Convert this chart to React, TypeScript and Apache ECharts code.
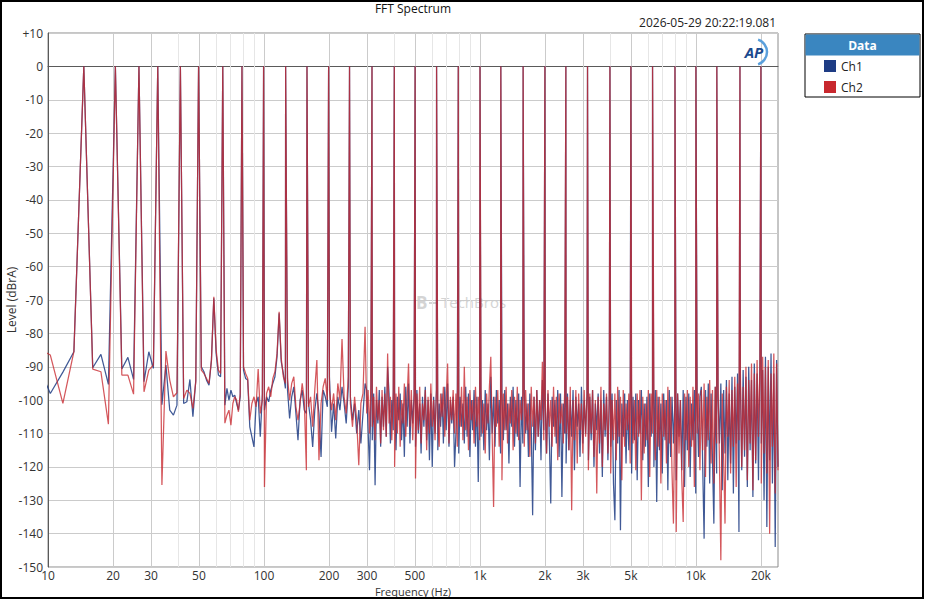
import React, { useEffect, useRef } from "react";
import * as echarts from "echarts";

const chartTitle = "FFT Spectrum";
const timestamp = "2026-05-29 20:22:19.081";
const xAxisName = "Frequency (Hz)";
const yAxisName = "Level (dBrA)";
const seriesNames = ["Ch1", "Ch2"];

const xTickHz = [10, 20, 30, 50, 100, 200, 300, 500, 1000, 2000, 3000, 5000, 10000, 20000];
const majorGridHz = [20, 30, 50, 100, 200, 300, 500, 1000, 2000, 3000, 5000, 10000, 20000];
const minorGridHz = [40, 60, 70, 80, 90, 400, 600, 700, 800, 900, 4000, 6000, 7000, 8000, 9000];

// multitone test tones (Hz) and their levels (dBrA)
const toneHz = [
  14.65, 20.51, 26.37, 32.23, 41.02, 49.8, 64.45, 79.1, 99.61, 125.98, 158.2, 199.22, 249.02, 316.41,
  401.37, 500.98, 629.88, 793.95, 1000.49, 1249.5, 1584.96, 1999.5, 2500, 3149.4, 3999, 5000, 6299.4,
  7999.5, 10000, 12500, 15999, 19999.5,
];
const toneDb = [
  0, 0, 0, 0, 0, 0, 0, 0, 0, 0, 0, 0, 0, 0, 0, 0, 0, 0, 0, 0, 0, 0, 0, 0, 0, 0, 0, 0, 0, 0, 0, 0,
];

// low-frequency FFT bins (Hz)
const lowHz = [
  8.79, 10.25, 11.72, 13.18, 16.11, 17.58, 19.04, 21.97, 23.44, 24.9, 27.83, 29.3, 30.76, 33.69, 35.16,
  36.62, 38.09, 39.55, 42.48, 43.95, 45.41, 46.88, 48.34, 51.27, 52.73, 54.2, 55.66, 57.13, 58.59, 60.06,
  61.52, 62.99, 65.92, 67.38, 68.85, 70.31, 71.78, 73.24, 74.71, 76.17, 77.64,
];
const ch1LowDb = [
  -88, -98, -91.6, -85.5, -90.3, -86.3, -95.3, -90.7, -87.2, -93.8, -94.5, -85.5, -90.5, -101.4, -89.5,
  -103, -104.5, -101.5, -101, -100.5, -93.8, -105, -94, -90, -91.5, -94, -95.5, -88, -69.5, -86,
  -92.5, -93, -101.5, -96.5, -100, -97, -99, -98.5, -101, -103, -99,
];
const ch2LowDb = [
  -84, -86.5, -101, -85.5, -90.7, -91.5, -107.2, -92.5, -92.5, -98.2, -97.5, -91, -89.5, -125.4, -85.3,
  -94, -99, -97.8, -99.5, -97, -98, -102.5, -94.5, -91, -92, -93.5, -95, -88, -69, -85,
  -91, -92, -106.9, -104.5, -103, -107.5, -101, -99, -100, -103.5, -98,
];

// read-out grids (log-spaced sampling positions), mid band and high band
const MID_START_HZ = 80.4;
const MID_END_HZ = 293.9;
const MID_POINTS = 59;
const HIGH_START_HZ = 299.1;
const HIGH_END_HZ = 24000;
const HIGH_POINTS = 296;
const logGrid = (a: number, b: number, n: number) =>
  Array.from({ length: n }, (_, i) => a * Math.pow(b / a, i / (n - 1)));
const midHz = logGrid(MID_START_HZ, MID_END_HZ, MID_POINTS);
const highHz = logGrid(HIGH_START_HZ, HIGH_END_HZ, HIGH_POINTS);

const ch1MidDb = [
  -91, -93.5, -94, -108, -111, -114, -101, -99, -111, -98, -103, -99, -100.5, -97, -95, -93,
  -87, -74, -88.5, -92, -96.5, -97, -105.5, -99, -96, -104, -112, -100, -97, -103, -104, -101,
  -106, -114, -103, -98, -104, -117, -97, -99, -102, -93, -109.5, -101, -111.5, -99, -103, -96,
  -101, -107, -96, -99, -106, -101, -110, -103, -113, -104, -95,
];
const ch2MidDb = [
  -90, -92, -93.5, -106, -101, -99, -102, -90.7, -104, -100, -126, -98, -96, -99, -93.5, -91.5,
  -86, -73.5, -87.5, -93, -95, -93.5, -100, -95, -93, -102, -106, -101, -95, -100, -121, -102,
  -99, -108, -97, -88, -118, -101, -96, -93.5, -100, -97, -103, -98, -106, -95, -100, -81.7,
  -99, -104, -93, -101, -108, -99, -106, -119.5, -101, -98, -78,
];

const ch1HighDb = [
  -97, -109, -121, -99, -112, -98, -125.5, -100, -107, -97, -114, -99, -108, -96, -111, -90,
  -98, -113, -100, -109, -97, -115, -99, -106, -98, -112, -101, -117, -96, -108, -95, -113,
  -100, -107, -98, -114, -97, -110, -101, -116, -99, -108, -96, -112, -100, -118, -98, -120,
  -99, -110, -97, -115, -101, -108, -98, -113, -96, -109, -95, -114, -100, -107, -99, -120,
  -110, -97, -116, -99, -108, -101, -113, -96, -111, -98, -117, -100, -109, -97, -114, -99,
  -124.5, -98, -111, -100, -115, -97, -109, -101, -118, -93, -110, -99, -114, -97, -107, -100,
  -116, -98, -112, -97, -109, -101, -119, -99, -108, -96, -114, -100, -111, -98, -126, -99,
  -113, -97, -110, -101, -117, -98, -108, -134.5, -99, -115, -97, -111, -100, -118, -94, -109,
  -101, -116, -98, -112, -131, -99, -108, -100, -113, -97, -117, -98, -129, -101, -110, -119,
  -98, -115, -100, -111, -97, -121, -99, -108, -101, -117, -96, -113, -100, -110, -98, -118,
  -99, -112, -97, -120, -101, -109, -98, -116, -100, -123, -97, -111, -99, -118, -101, -114,
  -98, -125, -136, -100, -113, -97, -139, -101, -111, -98, -119, -100, -115, -97, -122, -99,
  -112, -98, -124, -100, -110, -97, -118, -101, -114, -99, -126, -98, -111, -100, -120, -97,
  -130.5, -99, -115, -101, -122, -98, -112, -100, -127, -97, -117, -99, -113, -101, -124, -98,
  -111, -100, -121, -97, -126, -99, -115, -98, -123, -101, -112, -97, -128, -100, -117, -99,
  -96, -120, -141.5, -97, -114, -95, -125, -98, -118, -137, -96, -122, -99, -113, -95, -127,
  -97, -116, -94, -124, -98, -119, -93, -128, -96, -113, -92, -139.5, -95, -121, -91, -117,
  -93, -126, -90, -115, -94, -129, -89, -119, -92, -124, -88, -113, -91, -130, -87, -138,
  -90, -118, -86, -125, -92, -144, -88, -120,
];
const ch2HighDb = [
  -104, -97, -110, -95, -108, -99, -112, -96, -106, -100, -113, -97, -109, -98, -111, -86,
  -107, -99, -112, -97, -120, -98, -110, -96, -114, -100, -107, -95, -111, -99, -89, -108,
  -97, -112, -100, -123.5, -98, -109, -96, -113, -101, -106, -97, -115, -99, -110, -95, -108,
  -100, -112, -97, -107, -114, -98, -105, -96, -111, -100, -89, -113, -99, -106, -97, -110,
  -98, -114, -101, -108, -96, -112, -90, -109, -99, -115, -97, -106, -100, -113, -96, -108,
  -99, -112, -97, -110, -101, -116, -98, -107, -96, -87, -111, -132, -99, -108, -97, -114,
  -100, -124, -98, -109, -96, -113, -101, -107, -97, -115, -99, -110, -96, -112, -100, -106,
  -98, -114, -97, -109, -101, -117, -96, -108, -99, -113, -97, -111, -100, -106, -88.5, -112,
  -98, -116, -97, -108, -100, -114, -96, -111, -99, -118, -98, -107, -101, -113, -97, -110,
  -99, -115, -96, -133, -100, -112, -97, -119, -98, -109, -101, -116, -97, -111, -99, -121,
  -98, -110, -97, -117, -100, -128, -99, -113, -96, -120, -101, -109, -98, -116, -97, -122,
  -100, -112, -98, -118, -96, -111, -99, -124, -97, -114, -101, -109, -98, -119, -97, -113,
  -100, -121, -98, -111, -97, -130, -99, -116, -101, -112, -97, -123, -98, -110, -100, -118,
  -97, -114, -99, -125, -98, -111, -100, -119, -96, -113, -99, -122, -137, -101, -139.5, -98,
  -116, -100, -124, -136.5, -98, -112, -97, -120, -99, -114, -96, -126, -100, -110, -98, -121,
  -97, -115, -95, -123, -99, -112, -94, -119, -97, -125, -96, -113, -95, -118, -148, -98,
  -117, -137, -96, -111, -94, -122, -97, -114, -93, -126, -95, -112, -91, -120, -96, -115,
  -90, -124, -94, -113, -89, -127, -92, -118, -88, -111, -91, -125, -87, -116, -90, -122,
  -88, -140, -92, -114, -86, -128, -89, -121,
];

const FONT = "'Open Sans', 'Noto Sans', sans-serif";
const CH1_COLOR = "#1e3c84";
const CH2_COLOR = "#c8282e";

function buildSeries(lowDb: number[], midDb: number[], highDb: number[]): number[][] {
  const pts: number[][] = [];
  lowHz.forEach((f, i) => pts.push([f, lowDb[i]]));
  midHz.forEach((f, i) => pts.push([f, midDb[i]]));
  highHz.forEach((f, i) => pts.push([f, highDb[i]]));
  toneHz.forEach((f, i) => pts.push([f, toneDb[i]]));
  pts.sort((a, b) => a[0] - b[0]);
  return pts;
}

function fmtHz(v: number): string {
  const f = Math.round(v);
  return f >= 1000 ? `${Math.round(f / 100) / 10}k` : String(f);
}

export default function App() {
  const ref = useRef<HTMLDivElement>(null);
  useEffect(() => {
    const chart = echarts.init(ref.current!, null, { renderer: "svg" });
    const ch1 = buildSeries(ch1LowDb, ch1MidDb, ch1HighDb);
    const ch2 = buildSeries(ch2LowDb, ch2MidDb, ch2HighDb);
    const gridLines = [
      ...minorGridHz.map((v) => ({ xAxis: v, lineStyle: { color: "#e6e6e6", width: 1, type: "solid" } })),
      ...majorGridHz.map((v) => ({ xAxis: v, lineStyle: { color: "#cbcbcb", width: 1, type: "solid" } })),
    ];
    chart.setOption({
      animation: false,
      backgroundColor: "#ffffff",
      textStyle: { fontFamily: FONT },
      grid: {
        left: 48,
        right: 147,
        top: 33,
        bottom: 33,
        outerBoundsMode: "none",
        containLabel: false,
        show: true,
        borderColor: "#8c8c8c",
        borderWidth: 1,
        backgroundColor: "transparent",
      },
      legend: {
        data: [
          { name: "Ch1", itemStyle: { color: CH1_COLOR, opacity: 1 } },
          { name: "Ch2", itemStyle: { color: CH2_COLOR, opacity: 1 } },
        ],
        orient: "vertical",
        left: 824,
        top: 60,
        padding: 0,
        itemWidth: 12,
        itemHeight: 12,
        itemGap: 9,
        icon: "rect",
        selectedMode: false,
        textStyle: { fontFamily: FONT, fontSize: 12, color: "#222" },
      },
      xAxis: {
        type: "log",
        logBase: 10,
        min: 10,
        max: 24000,
        name: xAxisName,
        nameLocation: "middle",
        nameGap: 19,
        nameMoveOverlap: false,
        nameTextStyle: {
          fontFamily: FONT,
          fontSize: 11,
          lineHeight: 11,
          color: "#333",
          verticalAlign: "top",
        },
        axisLine: { show: true, lineStyle: { color: "#5a5a5a", width: 1 } },
        axisTick: { show: false, customValues: xTickHz },
        axisLabel: {
          customValues: xTickHz,
          formatter: fmtHz,
          margin: 2,
          lineHeight: 12,
          fontFamily: FONT,
          fontSize: 12,
          color: "#333",
        },
        splitLine: { show: false },
        minorSplitLine: { show: false },
      },
      yAxis: {
        type: "value",
        min: -150,
        max: 10,
        interval: 10,
        name: yAxisName,
        nameLocation: "middle",
        nameGap: 31,
        nameMoveOverlap: false,
        nameRotate: 90,
        nameTextStyle: { fontFamily: FONT, fontSize: 12, color: "#333" },
        axisLine: { show: true, lineStyle: { color: "#5a5a5a", width: 1 } },
        axisTick: { show: false },
        axisLabel: {
          margin: 5,
          fontFamily: FONT,
          fontSize: 12,
          color: "#333",
          formatter: (v: number) => (v > 0 ? `+${v}` : String(v)),
        },
        splitLine: { show: true, lineStyle: { color: "#cbcbcb", width: 1 } },
      },
      series: [
        {
          name: "grid",
          type: "line",
          data: [],
          z: 1,
          silent: true,
          markLine: {
            silent: true,
            symbol: ["none", "none"],
            label: { show: false },
            animation: false,
            z: 1,
            data: gridLines,
          },
        },
        {
          name: seriesNames[0],
          type: "line",
          data: ch1,
          showSymbol: false,
          symbol: "none",
          z: 3,
          clip: true,
          lineStyle: { color: CH1_COLOR, width: 1.25, opacity: 0.85 },
          itemStyle: { color: CH1_COLOR },
        },
        {
          name: seriesNames[1],
          type: "line",
          data: ch2,
          showSymbol: false,
          symbol: "none",
          z: 4,
          clip: true,
          lineStyle: { color: CH2_COLOR, width: 1.25, opacity: 0.78 },
          itemStyle: { color: CH2_COLOR },
        },
      ],
      graphic: [
        {
          type: "text",
          z: 0,
          style: {
            text: chartTitle,
            x: 413,
            y: 8,
            align: "center",
            verticalAlign: "middle",
            fill: "#111",
            font: `12px ${FONT}`,
          },
        },
        {
          type: "text",
          z: 0,
          style: {
            text: timestamp,
            x: 776,
            y: 22,
            align: "right",
            verticalAlign: "middle",
            fill: "#222",
            font: `12px ${FONT}`,
          },
        },
        {
          type: "text",
          z: 0,
          style: {
            text: "B",
            x: 416,
            y: 302,
            align: "left",
            verticalAlign: "middle",
            fill: "#d4d4d4",
            font: `bold 17px ${FONT}`,
          },
        },
        {
          type: "text",
          z: 0,
          style: {
            text: "TechBros",
            x: 441,
            y: 302,
            align: "left",
            verticalAlign: "middle",
            fill: "#d4d4d4",
            font: `15px ${FONT}`,
          },
        },
        {
          type: "line",
          z: 0,
          shape: { x1: 429, y1: 303, x2: 438, y2: 303 },
          style: { stroke: "#d4d4d4", lineWidth: 2 },
        },
        {
          type: "arc",
          z: 10,
          shape: { cx: 754, cy: 52, r: 13, startAngle: -1.25, endAngle: 1.25 },
          style: { stroke: "#5aa0dc", lineWidth: 2.5, fill: "none" },
        },
        {
          type: "text",
          z: 11,
          style: {
            text: "AP",
            x: 754,
            y: 52,
            align: "center",
            verticalAlign: "middle",
            fill: "#1b4a8e",
            font: `italic bold 15px ${FONT}`,
          },
        },
        {
          type: "rect",
          z: 0,
          shape: { x: 805, y: 34, width: 115, height: 63 },
          style: { fill: "#ffffff", stroke: "#000000", lineWidth: 1 },
        },
        {
          type: "rect",
          z: 1,
          shape: { x: 805.5, y: 34.5, width: 114, height: 21 },
          style: { fill: "#3a86c0", stroke: "none" },
        },
        {
          type: "text",
          z: 2,
          style: {
            text: "Data",
            x: 862.5,
            y: 45,
            align: "center",
            verticalAlign: "middle",
            fill: "#ffffff",
            font: `bold 12px ${FONT}`,
          },
        },
        {
          type: "rect",
          z: 20,
          shape: { x: 1, y: 1, width: 922, height: 597 },
          style: { fill: "none", stroke: "#000000", lineWidth: 2 },
        },
      ],
    });
    return () => chart.dispose();
  }, []);
  return (
    <div
      ref={ref}
      style={{ position: "fixed", left: 0, top: 0, width: 925, height: 600, background: "#fff" }}
    />
  );
}
